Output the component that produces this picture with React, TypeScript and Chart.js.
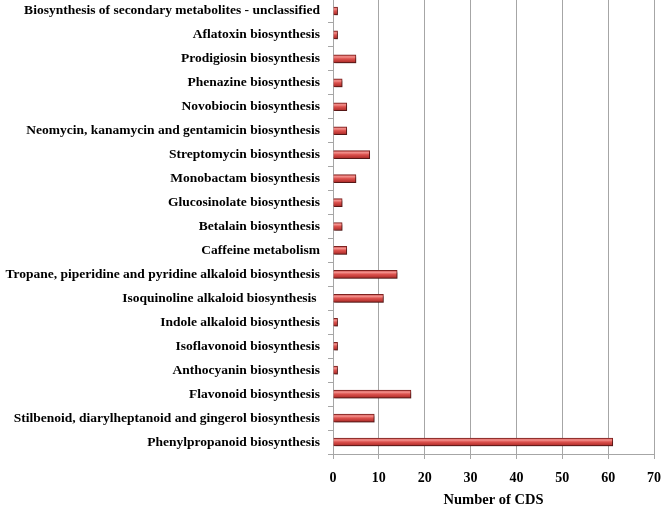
import React, { useEffect, useRef } from "react";
import { Chart, registerables } from "chart.js";

Chart.register(...registerables);

const categories: string[] = [
  "Biosynthesis of secondary metabolites - unclassified",
  "Aflatoxin biosynthesis",
  "Prodigiosin biosynthesis",
  "Phenazine biosynthesis",
  "Novobiocin biosynthesis",
  "Neomycin, kanamycin and gentamicin biosynthesis",
  "Streptomycin biosynthesis",
  "Monobactam biosynthesis",
  "Glucosinolate biosynthesis",
  "Betalain biosynthesis",
  "Caffeine metabolism",
  "Tropane, piperidine and pyridine alkaloid biosynthesis",
  "Isoquinoline alkaloid biosynthesis ",
  "Indole alkaloid biosynthesis",
  "Isoflavonoid biosynthesis",
  "Anthocyanin biosynthesis",
  "Flavonoid biosynthesis",
  "Stilbenoid, diarylheptanoid and gingerol biosynthesis",
  "Phenylpropanoid biosynthesis",
];

const cdsCounts: number[] = [1, 1, 5, 2, 3, 3, 8, 5, 2, 2, 3, 14, 11, 1, 1, 1, 17, 9, 61];

const xMin = 0;
const xMax = 70;
const xStep = 10;
const xTitle = "Number of CDS";

const FONT = "'Liberation Serif', 'Times New Roman', serif";

export default function App() {
  const ref = useRef<HTMLCanvasElement | null>(null);

  useEffect(() => {
    if (!ref.current) return;
    const shadowPlugin = {
      id: "barShadow",
      beforeDatasetsDraw(chart: any) {
        const ctx = chart.ctx;
        ctx.save();
        ctx.shadowColor = "rgba(0,0,0,0.35)";
        ctx.shadowOffsetX = 1.5;
        ctx.shadowOffsetY = 2;
        ctx.shadowBlur = 2;
      },
      afterDatasetsDraw(chart: any) {
        chart.ctx.restore();
      },
    };
    const chart = new Chart(ref.current, {
      type: "bar",
      data: {
        labels: categories,
        datasets: [
          {
            data: cdsCounts,
            barThickness: 8,
            borderWidth: 1,
            borderColor: "#7d2220",
            backgroundColor: (c: any) => {
              const sy = c.chart.scales?.y;
              if (!sy) return "#c0504d";
              const y = sy.getPixelForValue(c.dataIndex);
              if (!isFinite(y)) return "#c0504d";
              const g = c.chart.ctx.createLinearGradient(0, y - 4, 0, y + 4);
              g.addColorStop(0, "#c94f4c");
              g.addColorStop(0.25, "#f3908c");
              g.addColorStop(0.5, "#dc514d");
              g.addColorStop(0.85, "#b83431");
              g.addColorStop(1, "#8f2220");
              return g;
            },
          },
        ],
      },
      options: {
        indexAxis: "y",
        animation: false,
        responsive: false,
        maintainAspectRatio: false,
        layout: { padding: { top: 3, left: 0, right: 7, bottom: 0 } },
        plugins: {
          legend: { display: false },
          tooltip: { enabled: false },
        },
        scales: {
          x: {
            min: xMin,
            max: xMax,
            ticks: {
              stepSize: xStep,
              color: "#000",
              font: { family: FONT, size: 14, weight: "bold" },
              padding: 11,
            },
            grid: {
              color: "#a6a6a6",
              lineWidth: 1,
              tickLength: 5,
            },
            border: { color: "#a6a6a6" },
            title: {
              display: true,
              text: xTitle,
              color: "#000",
              font: { family: FONT, size: 14.5, weight: "bold" },
              padding: { top: 9, bottom: 0 },
            },
            afterFit(scale: any) {
              scale.height = 55;
              scale.paddingLeft = 0;
              scale.paddingRight = 0;
            },
          },
          y: {
            ticks: {
              color: "#000",
              font: { family: FONT, size: 13.5, weight: "bold" },
              padding: 8,
              autoSkip: false,
            },
            grid: {
              drawOnChartArea: false,
              color: "#a6a6a6",
              tickLength: 5,
            },
            border: { color: "#a6a6a6" },
            afterFit(scale: any) {
              scale.width = 333;
              scale.paddingTop = 0;
              scale.paddingBottom = 0;
            },
          },
        },
      },
      plugins: [shadowPlugin],
    } as any);
    chart.update();
    return () => chart.destroy();
  }, []);

  return (
    <div style={{ position: "absolute", left: 0, top: -4, width: 661, height: 513, overflow: "hidden" }}>
      <canvas ref={ref} width={661} height={513} style={{ width: 661, height: 513 }} />
    </div>
  );
}
